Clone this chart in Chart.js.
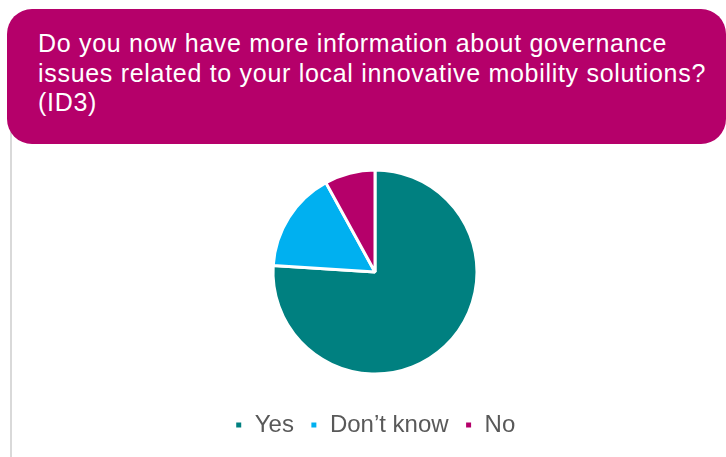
<!DOCTYPE html>
<html>
<head>
<meta charset="utf-8">
<script src="https://cdn.jsdelivr.net/npm/chart.js@4/dist/chart.umd.min.js"></script>
<style>
  html, body {
    margin: 0;
    padding: 0;
    background: #ffffff;
    width: 726px;
    height: 457px;
    overflow: hidden;
    font-family: "Liberation Sans", Arial, sans-serif;
  }
  .rule {
    position: absolute;
    left: 10px;
    top: 120px;
    width: 2px;
    height: 337px;
    background: #d9d9d9;
  }
  .banner {
    position: absolute;
    left: 7px;
    top: 9px;
    width: 719px;
    height: 135px;
    box-sizing: border-box;
    border-radius: 25px;
    background: #b5006a;
    color: #ffffff;
    font-size: 25px;
    letter-spacing: 0.7px;
    line-height: 29.5px;
    padding: 20px 0 0 31px;
  }
  .chart-box {
    position: absolute;
    left: 24px;
    top: 143px;
    width: 702px;
    height: 304px;
  }
</style>
</head>
<body>
<div class="rule"></div>
<div class="banner">Do you now have more information about governance<br>issues related to your local innovative mobility solutions?<br>(ID3)</div>
<div class="chart-box"><canvas id="pieChart"></canvas></div>
<script>
const labels = ["Yes", "Don\u2019t know", "No"];
const responses = [19, 4, 2];
const sliceColors = ["#008080", "#00b0f0", "#b5006a"];

const ctx = document.getElementById("pieChart").getContext("2d");

const chart = new Chart(ctx, {
  type: "pie",
  data: {
    labels: labels,
    datasets: [
      {
        label: "Responses",
        data: responses,
        backgroundColor: sliceColors,
        borderColor: "#ffffff",
        borderWidth: 3,
        hoverOffset: 0,
      },
    ],
  },
  options: {
    responsive: true,
    maintainAspectRatio: false,
    animation: false,
    radius: 102,
    layout: {
      padding: { top: 4, bottom: 0 },
    },
    plugins: {
      tooltip: { enabled: false },
      legend: {
        position: "bottom",
        labels: {
          boxWidth: 8,
          boxHeight: 8,
          padding: 16,
          color: "#595959",
          font: { family: "'Liberation Sans', Arial, sans-serif", size: 24 },
        },
      },
    },
  },
});
</script>
</body>
</html>
